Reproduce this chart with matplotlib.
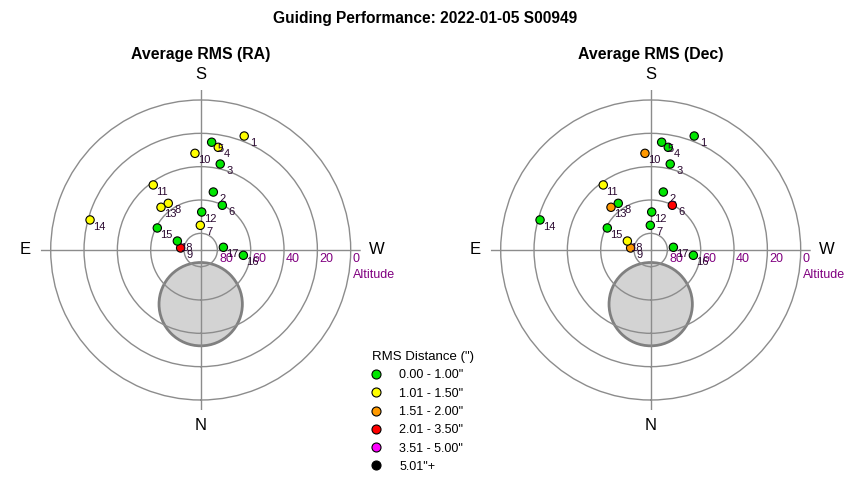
import numpy as np
import matplotlib
matplotlib.use("Agg")
import matplotlib.pyplot as plt
from matplotlib.patches import Circle
from matplotlib.lines import Line2D

plt.rcParams['font.family'] = ['Liberation Sans', 'DejaVu Sans']

# guide points: azimuth (deg, N=0, E=90) and altitude (deg)
point_ids = [1, 2, 3, 4, 5, 6, 7, 8, 9, 10, 11, 12, 13, 14, 15, 16, 17, 18]
azimuth = [200.9, 192.3, 192.8, 189.7, 185.8, 205.8, 179.1, 145.2, 95.7,
           176.6, 143.9, 181.5, 137.1, 105.2, 116.9, 277.1, 263.2, 111.0]
altitude = [16.8, 54.4, 37.1, 27.5, 25.0, 60.2, 75.2, 55.9, 77.9,
            31.9, 41.7, 67.2, 55.0, 21.2, 60.8, 64.2, 76.3, 75.0]

# rms class of each point (index into rms_bins)
ra_class = [1, 0, 0, 1, 0, 0, 1, 1, 3, 1, 1, 0, 1, 1, 0, 0, 0, 0]
dec_class = [0, 0, 0, 0, 0, 3, 0, 0, 2, 2, 1, 0, 2, 0, 0, 0, 0, 1]

rms_bins = ['0.00 - 1.00"', '1.01 - 1.50"', '1.51 - 2.00"',
            '2.01 - 3.50"', '3.51 - 5.00"', '5.01"+']
bin_colors = ['#00e600', '#ffff00', '#ff9900', '#ff0000', '#ff00ff', '#000000']

ring_alts = [80, 60, 40, 20, 0]
RMAX = 96.0
PURPLE = '#800080'


def polar_panel(ax, classes):
    ax.set_theta_zero_location('S')
    ax.set_theta_direction(-1)
    ax.set_rlim(0, RMAX)
    ax.spines['polar'].set_visible(False)
    ax.set_rgrids([90 - a for a in ring_alts], labels=[''] * len(ring_alts))
    ax.set_thetagrids([0, 90, 180, 270], labels=[''] * 4)
    ax.grid(True, color='#8c8c8c', lw=1.0)
    ax.patch.set_alpha(0)

    # shaded disk on the north side
    disk = Circle((0.5, 0.5 - 32.5 / (2 * RMAX)), 25.0 / (2 * RMAX),
                  transform=ax.transAxes, facecolor='#d3d3d3',
                  edgecolor='#808080', lw=2, zorder=1)
    ax.add_patch(disk)

    th = np.radians(azimuth)
    r = 90 - np.array(altitude)
    cols = [bin_colors[c] for c in classes]
    ax.scatter(th, r, s=36, c=cols, edgecolors='black', linewidths=0.8,
               zorder=4, clip_on=False)
    for i, pid in enumerate(point_ids):
        ax.annotate(str(pid), (th[i], r[i]), xytext=(6.5, -5),
                    textcoords='offset points', ha='center', va='center',
                    fontsize=8, color='#2a0830', zorder=5)

    # altitude ring labels along the west axis
    for a in ring_alts:
        ax.annotate(str(a), (np.radians(270), 90 - a), xytext=(1.5, -2),
                    textcoords='offset points', ha='left', va='top',
                    fontsize=9, color=PURPLE, annotation_clip=False)
    ax.annotate('Altitude', (np.radians(270), 90), xytext=(1.5, -14),
                textcoords='offset points', ha='left', va='top',
                fontsize=9, color=PURPLE, annotation_clip=False)

    for name, az in [('N', 0), ('E', 90), ('S', 180), ('W', 270)]:
        ax.text(np.radians(az), 105.5, name, ha='center', va='center',
                fontsize=12, clip_on=False)


fig = plt.figure(figsize=(8.5, 4.8), dpi=100)
ax1 = fig.add_axes([40.7 / 850, 70 / 480, 320 / 850, 320 / 480], projection='polar')
ax2 = fig.add_axes([490.7 / 850, 70 / 480, 320 / 850, 320 / 480], projection='polar')
polar_panel(ax1, ra_class)
polar_panel(ax2, dec_class)

fig.text(0.5, 1 - 18 / 480, 'Guiding Performance: 2022-01-05 S00949',
         ha='center', va='center', fontsize=11.2, fontweight='bold')
fig.text(200.7 / 850, 1 - 55 / 480, 'Average RMS (RA)', ha='center',
         va='center', fontsize=11.4, fontweight='bold')
fig.text(650.7 / 850, 1 - 55 / 480, 'Average RMS (Dec)', ha='center',
         va='center', fontsize=11.4, fontweight='bold')

handles = [Line2D([], [], ls='none', marker='o', markersize=6.5,
                  markerfacecolor=c, markeredgecolor='black', markeredgewidth=0.8)
           for c in bin_colors]
fig.legend(handles, rms_bins, title='RMS Distance (")', loc='upper left',
           bbox_to_anchor=(366 / 850, 1 - 345 / 480), frameon=False,
           fontsize=9, title_fontsize=9.5, labelspacing=0.5,
           handlelength=0.6, handletextpad=1.55, borderpad=0,
           alignment='left')

fig.savefig('out.png', dpi=100)
